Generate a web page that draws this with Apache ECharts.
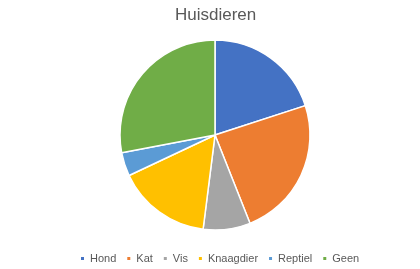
<!DOCTYPE html>
<html>
<head>
<meta charset="utf-8">
<script src="https://cdn.jsdelivr.net/npm/echarts@6/dist/echarts.min.js"></script>
<style>
  html, body { margin: 0; padding: 0; background: #fff; }
  #chart { width: 420px; height: 269px; }
</style>
</head>
<body>
<div id="chart"></div>
<script>
// Pets survey: share per category
const categories = ['Hond', 'Kat', 'Vis', 'Knaagdier', 'Reptiel', 'Geen'];
const values = [20, 24, 8, 16, 4, 28];
const colors = ['#4472C4', '#ED7D31', '#A5A5A5', '#FFC000', '#5B9BD5', '#70AD47'];

const chart = echarts.init(document.getElementById('chart'), null, { renderer: 'canvas' });
chart.setOption({
  animation: false,
  color: colors,
  title: {
    text: 'Huisdieren',
    left: 170,
    top: 2,
    textStyle: { fontFamily: 'Liberation Sans', fontSize: 17, fontWeight: 'normal', color: '#595959' }
  },
  legend: {
    bottom: 0,
    left: 74,
    icon: 'rect',
    itemWidth: 5,
    itemHeight: 5,
    itemGap: 9,
    textStyle: { fontFamily: 'Liberation Sans', fontSize: 11, color: '#595959' },
    data: categories
  },
  series: [{
    type: 'pie',
    center: [215, 135],
    radius: 95,
    startAngle: 90,
    clockwise: true,
    label: { show: false },
    labelLine: { show: false },
    emphasis: { disabled: true },
    itemStyle: { borderColor: '#fff', borderWidth: 1.5 },
    data: categories.map((c, i) => ({ name: c, value: values[i] }))
  }]
});
</script>
</body>
</html>
